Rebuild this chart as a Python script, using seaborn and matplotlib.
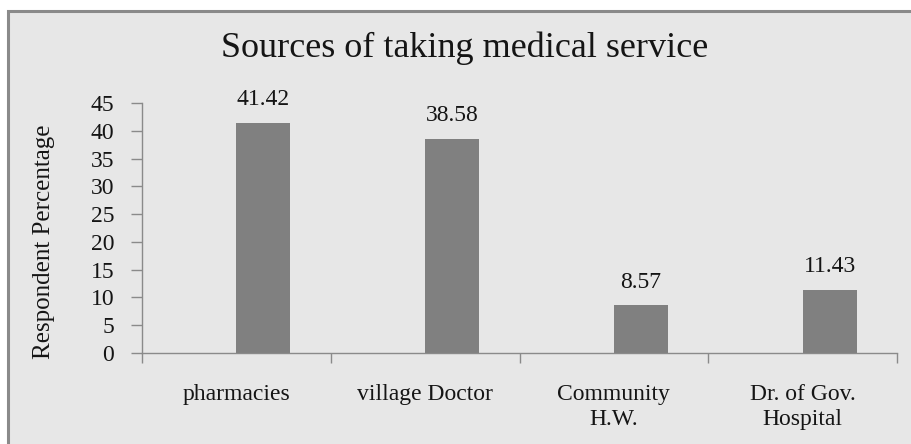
import matplotlib
matplotlib.use("Agg")
import matplotlib.pyplot as plt
from matplotlib.patches import Rectangle
import seaborn as sns
import pandas as pd

categories = ["pharmacies", "village Doctor", "Community\nH.W.", "Dr. of Gov.\nHospital"]
values = [41.42, 38.58, 8.57, 11.43]
blank_values = [0, 0, 0, 0]
series_names = ["blank", "Respondent"]
yticks = [0, 5, 10, 15, 20, 25, 30, 35, 40, 45]

sns.set_theme(style="white")
plt.rcParams["font.family"] = ["Liberation Serif", "DejaVu Serif"]

BG = "#E7E7E7"
TXT = "#151515"
AXC = "#8A8A8A"
W, H = 911, 444
fig = plt.figure(figsize=(W / 100, H / 100), dpi=100, facecolor="white")

# outer frame (clipped on right/bottom like the reference)
frame = Rectangle((8 / W, -0.2), 1.2, 1 - 11 / H + 0.2, transform=fig.transFigure,
                  facecolor=BG, edgecolor=AXC, linewidth=2.2, zorder=-10)
fig.patches.append(frame)

ax = fig.add_axes([142 / W, 1 - 353 / H, (897 - 142) / W, (353 - 103) / H])
ax.set_zorder(5)
ax.patch.set_alpha(0)

df = pd.DataFrame({
    "category": categories * 2,
    "series": [series_names[0]] * 4 + [series_names[1]] * 4,
    "value": blank_values + values,
})
sns.barplot(data=df, x="category", y="value", hue="series", hue_order=series_names,
            order=categories, palette={"blank": "#808080", "Respondent": "#808080"},
            width=0.571, linewidth=0, legend=False, ax=ax)

ax.bar_label(ax.containers[1], labels=[f"{v:.2f}" for v in values], padding=9,
             fontsize=17, color=TXT)

ax.set_xlim(-0.5, 3.5)
ax.set_ylim(0, 45)
ax.set_yticks(yticks)
ax.set_yticklabels([str(t) for t in yticks], fontsize=17, color=TXT)
ax.set_xticks(range(4))
ax.set_xticklabels(categories, fontsize=17, color=TXT, linespacing=1.3)
ax.set_xticks([-0.5, 0.5, 1.5, 2.5, 3.5], minor=True)
ax.tick_params(axis="x", which="major", bottom=True, length=0, pad=22)
ax.tick_params(axis="x", which="minor", bottom=True, length=7, width=1, color=AXC, direction="out")
ax.tick_params(axis="y", which="major", left=True, length=8, width=1, color=AXC, direction="out", pad=12)
ax.set_xlabel("")
ax.set_ylabel("Respondent Percentage", fontsize=18, color=TXT)
ax.yaxis.set_label_coords(-0.115, 0.444)

for s in ["top", "right"]:
    ax.spines[s].set_visible(False)
for s in ["left", "bottom"]:
    ax.spines[s].set_color(AXC)
    ax.spines[s].set_linewidth(1)

fig.text(465 / W, 1 - 48 / H, "Sources of taking medical service", ha="center", va="center",
         fontsize=26, color=TXT, zorder=6)

fig.savefig("out.png", dpi=100, facecolor="white")
